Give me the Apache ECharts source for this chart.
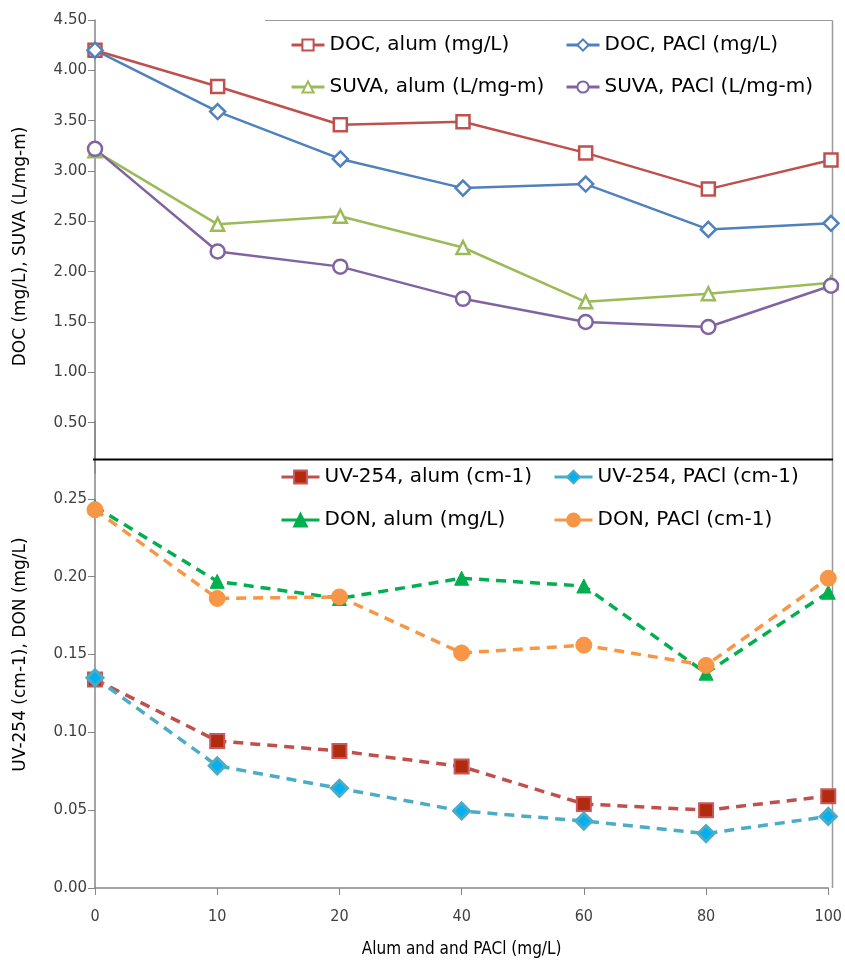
<!DOCTYPE html>
<html><head><meta charset="utf-8">
<script src="https://cdn.jsdelivr.net/npm/echarts@6/dist/echarts.min.js"></script>
<style>html,body{margin:0;padding:0;background:#fff}#c{width:845px;height:961px}</style>
</head><body><div id="c"></div>
<script>
const categories = ['0','10','20','40','60','80','100'];
const docAlum  = [4.20, 3.84, 3.46, 3.49, 3.18, 2.82, 3.11];
const docPacl  = [4.20, 3.59, 3.12, 2.83, 2.87, 2.42, 2.48];
const suvaAlum = [3.20, 2.47, 2.55, 2.24, 1.70, 1.78, 1.89];
const suvaPacl = [3.22, 2.20, 2.05, 1.73, 1.50, 1.45, 1.86];
const uvAlum   = [0.134, 0.0945, 0.088, 0.078, 0.054, 0.050, 0.059];
const uvPacl   = [0.135, 0.0785, 0.064, 0.0495, 0.043, 0.035, 0.046];
const donAlum  = [0.245, 0.197, 0.186, 0.199, 0.194, 0.138, 0.190];
const donPacl  = [0.243, 0.186, 0.187, 0.151, 0.156, 0.143, 0.199];
const topTicks = [0.5,1.0,1.5,2.0,2.5,3.0,3.5,4.0,4.5];
const bottomTicks = [0,0.05,0.10,0.15,0.20,0.25];

const FONT = 'DejaVu Sans';
const CFONT = 'DejaVu Sans Condensed';
const axisCol = '#868686';

function topSeries(name, data, color, symbol, size){
  return {name, type:'line', data, xAxisIndex:0, yAxisIndex:0,
    symbol, symbolSize:size, showSymbol:true,
    lineStyle:{color, width:2.5},
    itemStyle:{color:'#ffffff', borderColor:color, borderWidth:2.5},
    z:3};
}
function botSeries(name, data, lineColor, fill, border, bw, symbol, size){
  return {name, type:'line', data, xAxisIndex:1, yAxisIndex:1,
    symbol, symbolSize:size, showSymbol:true,
    lineStyle:{color:lineColor, width:3.5, type:[10,7]},
    itemStyle:{color:fill, borderColor:border, borderWidth:bw},
    z:3};
}
function leg(name, left, top, w, h){
  return {data:[name], left, top, orient:'horizontal', padding:0, itemGap:0,
    itemWidth:w, itemHeight:h,
    lineStyle:{type:'solid', width:3},
    textStyle:{fontFamily:FONT, fontSize:20, color:'#000'}};
}

const chart = echarts.init(document.getElementById('c'), null, {renderer:'canvas'});
chart.setOption({
  animation:false,
  backgroundColor:'#fff',
  grid:[
    {left:95, right:14, top:20, height:453},
    {left:95, right:14, top:421, height:467}
  ],
  xAxis:[
    {type:'category', gridIndex:0, data:categories, boundaryGap:false, show:false},
    {type:'category', gridIndex:1, data:categories, boundaryGap:false,
     axisLine:{lineStyle:{color:axisCol, width:1.5}},
     axisTick:{show:true, alignWithLabel:true, length:7, inside:false, lineStyle:{color:axisCol}},
     axisLabel:{fontFamily:CFONT, fontSize:16, color:'#404040', margin:21},
     name:'Alum and and PACl (mg/L)', nameLocation:'middle', nameGap:53,
     nameTextStyle:{fontFamily:CFONT, fontSize:17, color:'#000'}}
  ],
  yAxis:[
    {type:'value', gridIndex:0, min:0, max:4.5, interval:0.5,
     axisLine:{show:true, lineStyle:{color:axisCol, width:1.5}},
     axisTick:{show:true, length:7, customValues:topTicks, lineStyle:{color:axisCol}},
     splitLine:{show:false},
     axisLabel:{customValues:topTicks, formatter:v=>v.toFixed(2), fontFamily:FONT, fontSize:15, color:'#404040', margin:8},
     name:'DOC (mg/L), SUVA (L/mg-m)', nameLocation:'middle', nameGap:66, nameRotate:90,
     nameTextStyle:{fontFamily:FONT, fontSize:17, color:'#000'}},
    {type:'value', gridIndex:1, min:0, max:0.3, interval:0.05,
     axisLine:{show:true, lineStyle:{color:axisCol, width:1.5}},
     axisTick:{show:true, length:7, customValues:bottomTicks, lineStyle:{color:axisCol}},
     splitLine:{show:false},
     axisLabel:{customValues:bottomTicks, formatter:v=>v.toFixed(2), fontFamily:FONT, fontSize:15, color:'#404040', margin:8},
     name:'UV-254 (cm-1), DON (mg/L)', nameLocation:'middle', nameGap:66, nameRotate:90,
     nameTextStyle:{fontFamily:FONT, fontSize:17, color:'#000'}}
  ],
  legend:[
    leg('DOC, alum (mg/L)', 290, 35, 33, 14),
    leg('DOC, PACl (mg/L)', 565, 35, 33, 14),
    leg('SUVA, alum (L/mg-m)', 290, 77, 33, 14),
    leg('SUVA, PACl (L/mg-m)', 565, 77, 33, 14),
    leg('UV-254, alum (cm-1)', 280, 467, 38, 16),
    leg('UV-254, PACl (cm-1)', 553, 467, 38, 16),
    leg('DON, alum (mg/L)', 280, 510, 38, 16),
    leg('DON, PACl (cm-1)', 553, 510, 38, 16)
  ],
  graphic:[
    {type:'line', shape:{x1:265, y1:20.5, x2:832.5, y2:20.5}, style:{stroke:'#9a9a9a', lineWidth:1}, z:1},
    {type:'line', shape:{x1:832.5, y1:20.5, x2:832.5, y2:888}, style:{stroke:'#9a9a9a', lineWidth:1.5}, z:1},
    {type:'line', shape:{x1:93, y1:459.5, x2:833, y2:459.5}, style:{stroke:'#000', lineWidth:2}, z:10}
  ],
  series:[
    topSeries('DOC, alum (mg/L)', docAlum, '#C0504D', 'rect', 13),
    topSeries('DOC, PACl (mg/L)', docPacl, '#4F81BD', 'diamond', 15),
    topSeries('SUVA, alum (L/mg-m)', suvaAlum, '#9BBB59', 'triangle', 13),
    topSeries('SUVA, PACl (L/mg-m)', suvaPacl, '#8064A2', 'circle', 14),
    botSeries('UV-254, alum (cm-1)', uvAlum, '#C0504D', '#B22B0F', '#C9585A', 2, 'rect', 14),
    botSeries('UV-254, PACl (cm-1)', uvPacl, '#4BACC6', '#00B0F0', '#4BACC6', 3, 'diamond', 16),
    botSeries('DON, alum (mg/L)', donAlum, '#00B050', '#00B050', '#00B050', 1, 'triangle', 14),
    botSeries('DON, PACl (cm-1)', donPacl, '#F79646', '#F79646', '#F79646', 1, 'circle', 16)
  ]
});
</script></body></html>
